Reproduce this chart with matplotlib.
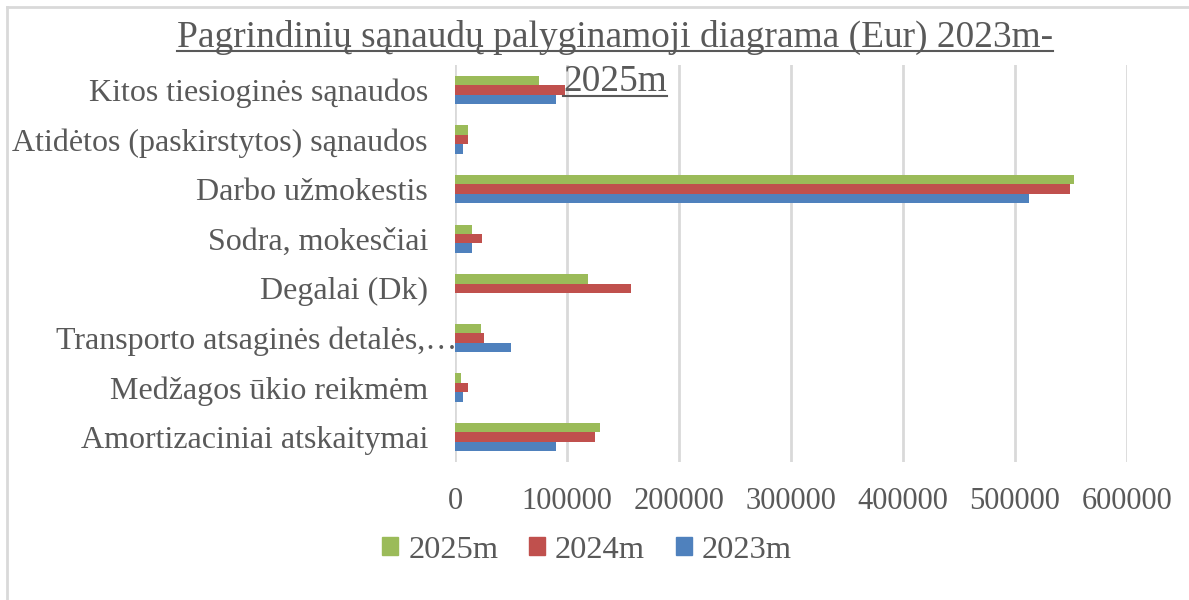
import matplotlib
matplotlib.use("Agg")
import matplotlib.pyplot as plt
from matplotlib.patches import Patch
from matplotlib.lines import Line2D
import numpy as np

# Categories listed bottom to top, as they appear on the chart
categories = [
    "Amortizaciniai atskaitymai",
    "Medžagos ūkio reikmėm",
    "Transporto atsaginės detalės,…",
    "Degalai (Dk)",
    "Sodra, mokesčiai",
    "Darbo užmokestis",
    "Atidėtos (paskirstytos) sąnaudos",
    "Kitos tiesioginės sąnaudos",
]
values_2023 = [90400, 6800, 49700, 0, 15200, 512900, 7400, 90200]
values_2024 = [125000, 11900, 25900, 156900, 24200, 548700, 11600, 98200]
values_2025 = [129500, 5000, 23500, 118900, 15500, 552700, 11900, 75300]
x_ticks = [0, 100000, 200000, 300000, 400000, 500000, 600000]

TEXT = "#595959"
GREEN = "#9bbb59"
RED = "#c0504d"
BLUE = "#4f81bd"
GRID = "#d9d9d9"

plt.rcParams["font.family"] = ["Liberation Serif", "DejaVu Serif"]

W, H = 1189, 600
fig = plt.figure(figsize=(W / 100, H / 100), dpi=100)
ax = fig.add_axes([455 / W, 1 - 462 / H, (1127 - 455) / W, (462 - 65) / H])

y = np.arange(len(categories))
h = 0.19
ax.barh(y - h, values_2023, height=h, color=BLUE, label="2023m")
ax.barh(y, values_2024, height=h, color=RED, label="2024m")
ax.barh(y + h, values_2025, height=h, color=GREEN, label="2025m")

ax.set_xlim(0, 600000)
ax.set_ylim(-0.5, len(categories) - 0.5)
ax.set_xticks(x_ticks)
ax.set_xticklabels([str(v) for v in x_ticks])
ax.set_yticks(y)
# the truncated label sits further right in the original, drawn separately below
ylabels = [c if i != 2 else "" for i, c in enumerate(categories)]
ax.set_yticklabels(ylabels)
ax.tick_params(axis="y", length=0, labelsize=23, colors=TEXT, pad=19.5)
ax.tick_params(axis="x", length=0, labelsize=22, colors=TEXT, pad=18)
ax.xaxis.grid(True, color=GRID, linewidth=2)
ax.set_axisbelow(True)
for s in ax.spines.values():
    s.set_visible(False)

ax.annotate(categories[2], xy=(0, y[2]), xycoords=("axes fraction", "data"),
            xytext=(1.5, 0), textcoords="offset points", ha="right", va="center_baseline",
            fontsize=23, color=TEXT, annotation_clip=False)

# title, two lines, underlined
t1 = fig.text(615 / W, 1 - 47 / H, "Pagrindinių sąnaudų palyginamoji diagrama (Eur) 2023m-",
              ha="center", va="baseline", fontsize=26.9, color=TEXT)
t2 = fig.text(615 / W, 1 - 91 / H, "2025m", ha="center", va="baseline", fontsize=26.9, color=TEXT)

# legend
handles = [Patch(color=GREEN), Patch(color=RED), Patch(color=BLUE)]
fig.legend(handles, ["2025m", "2024m", "2023m"], loc="center", bbox_to_anchor=(587 / W, 1 - 550 / H),
           ncol=3, frameon=False, fontsize=23.4, labelcolor=TEXT, handlelength=0.5, handleheight=0.5,
           handletextpad=0.3, columnspacing=0.95)

# outer frame
fig.add_artist(Line2D([7 / W, 7 / W], [0, 1 - 7 / H], color=GRID, linewidth=2))
fig.add_artist(Line2D([7 / W, 1], [1 - 7 / H, 1 - 7 / H], color=GRID, linewidth=2))

fig.canvas.draw()
r = fig.canvas.get_renderer()
for t, uy in [(t1, 51), (t2, 96)]:
    bb = t.get_window_extent(r)
    fig.add_artist(Line2D([bb.x0 / W, bb.x1 / W], [1 - uy / H, 1 - uy / H], color=TEXT, linewidth=1.5))

fig.savefig("out.png", dpi=100, facecolor="white")
